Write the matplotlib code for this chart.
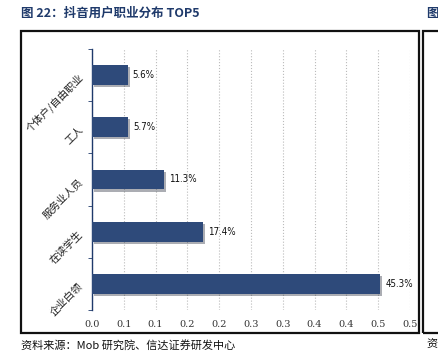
import matplotlib.pyplot as plt
import matplotlib.patches as mpatches
import matplotlib.patheffects as pe

plt.rcParams['font.family'] = ['Noto Sans CJK SC', 'DejaVu Sans']

# data
categories = ['企业白领', '在读学生', '服务业人员', '工人', '个体户/自由职业']
values = [0.453, 0.174, 0.113, 0.057, 0.056]
tick_vals = [0.0, 0.05, 0.1, 0.15, 0.2, 0.25, 0.3, 0.35, 0.4, 0.45, 0.5]
tick_labels = ['0.0', '0.1', '0.1', '0.2', '0.2', '0.3', '0.3', '0.4', '0.4', '0.5', '0.5']

bar_color = '#2E4A7A'
navy = '#1F3A6B'

fig = plt.figure(figsize=(4.39, 3.55), dpi=100)

# outer frame box
fig.patches.append(mpatches.Rectangle((21 / 439, 1 - 333 / 355), 398 / 439, 302 / 355,
                                      transform=fig.transFigure, fill=False,
                                      edgecolor='#111111', linewidth=1.6))
# neighbouring chart frame (cut off at right edge)
fig.patches.append(mpatches.Rectangle((423 / 439, 1 - 333 / 355), 40 / 439, 302 / 355,
                                      transform=fig.transFigure, fill=False,
                                      edgecolor='#111111', linewidth=1.6))

ax = fig.add_axes([92 / 439, 1 - 310 / 355, 318 / 439, 261 / 355])

y = list(range(len(categories)))
ax.barh(y, values, height=0.38, color=bar_color, zorder=3,
        path_effects=[pe.SimplePatchShadow(offset=(1.5, -1.5), alpha=0.35), pe.Normal()])
for yi, v in zip(y, values):
    ax.text(v + 0.008, yi, f'{v * 100:.1f}%', va='center', ha='left', fontsize=7,
            family='DejaVu Sans', stretch='condensed', color='#111111')

ax.set_xlim(0, 0.5)
ax.set_ylim(-0.5, len(categories) - 0.5)
ax.set_xticks(tick_vals)
ax.set_xticklabels(tick_labels, fontsize=7, family='DejaVu Serif', color='#333333')
ax.set_yticks(y)
ax.set_yticklabels(categories, rotation=45, fontsize=7.5, color='#222222', ha='right',
                   rotation_mode='anchor')
ax.set_yticks([i - 0.5 for i in range(len(categories) + 1)], minor=True)
ax.tick_params(axis='y', which='major', length=0, pad=8)
ax.tick_params(axis='y', which='minor', length=3, color=navy, direction='out')
ax.tick_params(axis='x', length=0, pad=7)

for s in ['top', 'right', 'bottom']:
    ax.spines[s].set_visible(False)
ax.spines['left'].set_color(navy)
ax.spines['left'].set_linewidth(1.0)

ax.grid(axis='x', linestyle=':', color='#BBBBBB', linewidth=0.8, zorder=0)

fig.text(21 / 439, 1 - 13 / 355, '图 22：抖音用户职业分布 TOP5', fontsize=9, fontweight='bold',
         color=navy, va='center', ha='left')
fig.text(426 / 439, 1 - 13 / 355, '图', fontsize=9, fontweight='bold',
         color=navy, va='center', ha='left')
fig.text(21 / 439, 1 - 345 / 355, '资料来源：Mob 研究院、信达证券研发中心', fontsize=8,
         style='italic', color='#111111', va='center', ha='left')
fig.text(426 / 439, 1 - 345 / 355, '资', fontsize=8, style='italic', color='#111111',
         va='center', ha='left')

fig.savefig('out.png', dpi=100)
